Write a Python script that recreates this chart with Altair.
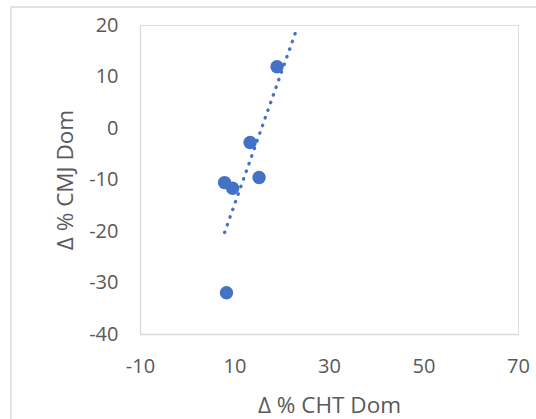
import altair as alt
import pandas as pd

cht_dom = [19.0, 13.3, 15.2, 7.9, 9.6, 8.3]
cmj_dom = [11.9, -2.8, -9.6, -10.6, -11.7, -32.0]
x_ticks = [-10, 10, 30, 50, 70]
y_ticks = [-40, -30, -20, -10, 0, 10, 20]
trend_extent = [7.9, 23.1]

df = pd.DataFrame({"x": cht_dom, "y": cmj_dom})

FONT = "Open Sans"
BLUE = "#4472C4"
GREY_TXT = "#595959"

common = dict(grid=False, ticks=False, domainColor="#D9D9D9", domainWidth=1.3,
              labelFontSize=20, titleFontSize=22.5, labelColor=GREY_TXT, titleColor=GREY_TXT,
              labelFont=FONT, titleFont=FONT, titleFontWeight="normal",
              labelFlush=False, labelOverlap=False,
              labelExpr="toString(datum.value)")

x_enc = alt.X("x:Q", scale=alt.Scale(domain=[-10, 70], nice=False, zero=False),
              axis=alt.Axis(values=x_ticks, title="Δ % CHT Dom", labelPadding=22,
                            titlePadding=18, **common))
y_enc = alt.Y("y:Q", scale=alt.Scale(domain=[-40, 20], nice=False, zero=False),
              axis=alt.Axis(values=y_ticks, title="Δ % CMJ Dom", labelPadding=22,
                            titlePadding=11, **common))

border = alt.Chart(pd.DataFrame({"a": [0]})).mark_rect(
    fill=None, stroke="#D9D9D9", strokeWidth=1.3, clip=False
).encode(x=alt.value(-129), x2=alt.value(420), y=alt.value(-18), y2=alt.value(420))

points = alt.Chart(df).mark_circle(size=180, color=BLUE, opacity=1).encode(x=x_enc, y=y_enc)

trend = alt.Chart(df).transform_regression(
    "x", "y", extent=trend_extent
).mark_line(color=BLUE, strokeWidth=3.3, strokeDash=[0.5, 7.6], strokeCap="round").encode(
    x="x:Q", y="y:Q"
)

chart = alt.layer(border, trend, points).properties(
    width=378, height=309,
    autosize=alt.AutoSizeParams(type="none"),
    padding={"left": 140, "top": 25, "right": 18, "bottom": 85},
).configure_view(stroke=None).configure(background="white")

chart.save("out.html", embed_options={"renderer": "svg", "actions": False})
